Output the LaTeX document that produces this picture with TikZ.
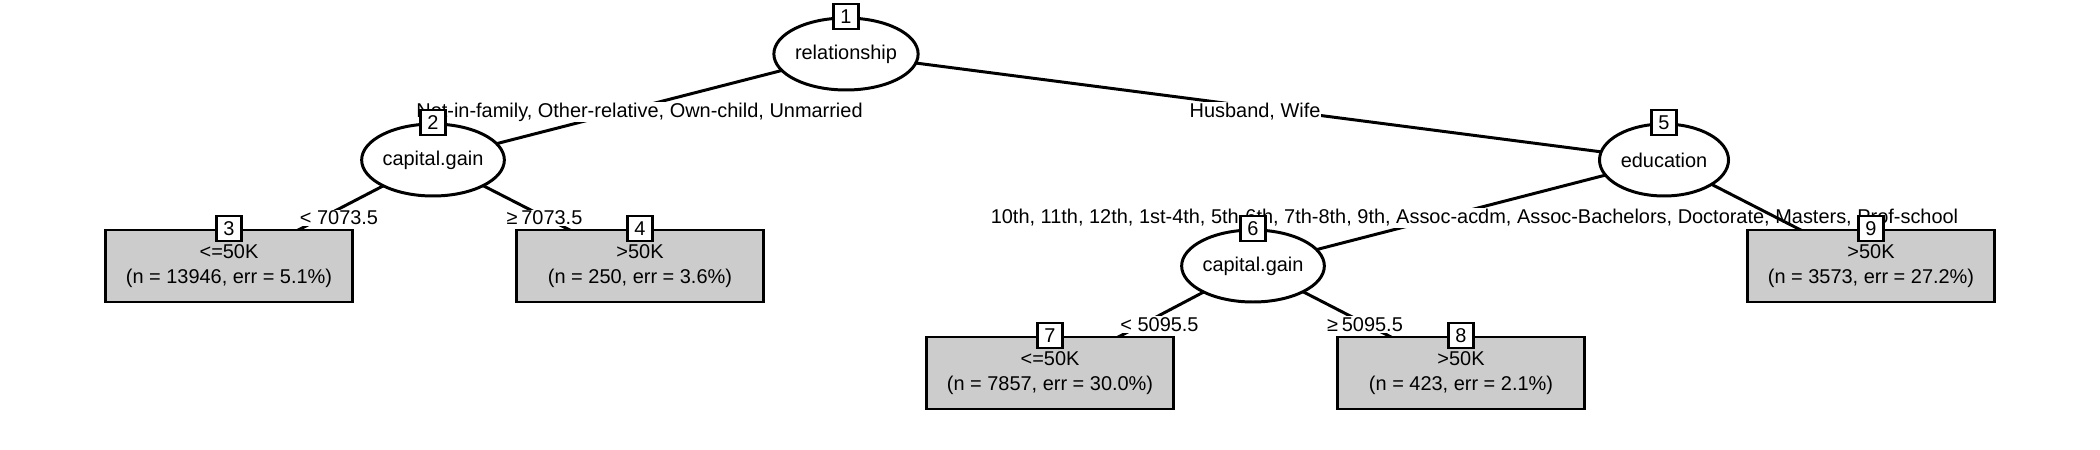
\documentclass[tikz,border=0pt]{standalone}
\usepackage{fontspec}
\setmainfont{Liberation Sans}
\usepackage{tikz}
\usetikzlibrary{shapes}
\usetikzlibrary{backgrounds}
\tikzstyle{innernode}=[draw, ellipse, fill=white, minimum width=25.8mm, minimum height=14.4mm, inner sep=0pt]
\tikzstyle{terminal}=[draw, rectangle, fill=black!20, minimum width=49.4mm, minimum height=14.4mm, align=center, inner sep=0pt]
\tikzstyle{nodeid}=[draw, rectangle, fill=white, minimum size=5mm, inner sep=0pt]
\tikzstyle{edge}=[line width=1.7pt]
\tikzstyle{split}=[fill=white, inner sep=0.6pt, yshift=-1mm]

\begin{document}
\begin{tikzpicture}[x=0.2mm, y=-0.2mm, line width=1.7pt, font=\fontsize{11.35}{14.2}\selectfont]
		\useasboundingbox (0,0) rectangle (2100,450);
		\node[innernode] (n1) at (846,54) {relationship};
		\node[innernode] (n2) at (433,160) {capital.gain};
		\node[innernode] (n5) at (1664,160) {education};
		\node[innernode] (n6) at (1253,266) {capital.gain};
		\node[terminal] (n3) at (229,266) {<=50K\\(n = 13946, err = 5.1\%)};
		\node[terminal] (n4) at (640,266) {>50K\\(n = 250, err = 3.6\%)};
		\node[terminal] (n9) at (1871,266) {>50K\\(n = 3573, err = 27.2\%)};
		\node[terminal] (n7) at (1050,373) {<=50K\\(n = 7857, err = 30.0\%)};
		\node[terminal] (n8) at (1461,373) {>50K\\(n = 423, err = 2.1\%)};
		\node[nodeid] (id1) at (n1.north) {1};
		\node[nodeid] (id2) at (n2.north) {2};
		\node[nodeid] (id3) at (n3.north) {3};
		\node[nodeid] (id4) at (n4.north) {4};
		\node[nodeid] (id5) at (n5.north) {5};
		\node[nodeid] (id6) at (n6.north) {6};
		\node[nodeid] (id7) at (n7.north) {7};
		\node[nodeid] (id8) at (n8.north) {8};
		\node[nodeid] (id9) at (n9.north) {9};
		\begin{scope}[on background layer]
			\draw[edge] (n1.center) -- node[split] {Not-in-family, Other-relative, Own-child, Unmarried} (n2.center);
			\draw[edge] (n1.center) -- node[split] {Husband, Wife} (n5.center);
			\draw[edge] (n2.center) -- node[split, xshift=1.6mm] {< 7073.5} (n3.center);
			\draw[edge] (n2.center) -- node[split, xshift=1.6mm] {≥\hspace{-1pt} 7073.5} (n4.center);
			\draw[edge] (n5.center) -- node[split, xshift=3.2mm] {10th, 11th, 12th, 1st-4th, 5th-6th, 7th-8th, 9th, Assoc-acdm, Assoc-Bachelors, Doctorate, Masters, Prof-school} (n6.center);
			\draw[edge] (n5.center) -- (n9.center);
			\draw[edge] (n6.center) -- node[split, xshift=1.6mm] {< 5095.5} (n7.center);
			\draw[edge] (n6.center) -- node[split, xshift=1.6mm] {≥\hspace{-1pt} 5095.5} (n8.center);
		\end{scope}
	\end{tikzpicture}
\end{document}
